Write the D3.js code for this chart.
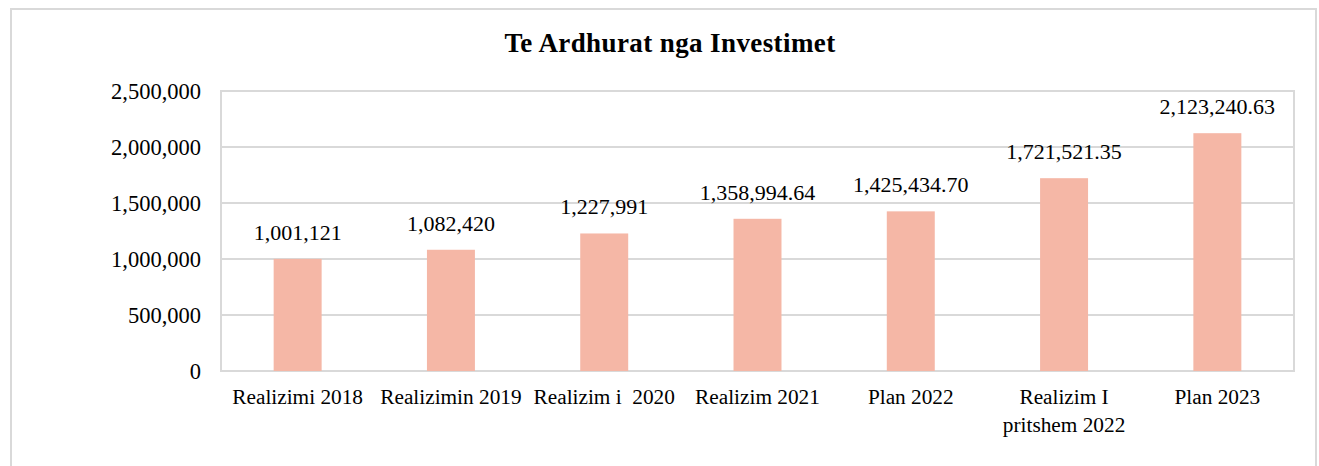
<!DOCTYPE html>
<html>
<head>
<meta charset="utf-8">
<script src="https://cdn.jsdelivr.net/npm/d3@7"></script>
<style>
  body { margin: 0; background: #fff; }
  text { font-family: "Liberation Serif", "DejaVu Serif", serif; fill: #000; white-space: pre; }
</style>
</head>
<body>
<svg id="chart" width="1319" height="466"></svg>
<script>
var categories = ["Realizimi 2018", "Realizimin 2019", "Realizim i  2020", "Realizim 2021", "Plan 2022", "Realizim I\npritshem 2022", "Plan 2023"];
var values = [1001121, 1082420, 1227991, 1358994.64, 1425434.70, 1721521.35, 2123240.63];
var valueLabels = ["1,001,121", "1,082,420", "1,227,991", "1,358,994.64", "1,425,434.70", "1,721,521.35", "2,123,240.63"];
var yTicks = [0, 500000, 1000000, 1500000, 2000000, 2500000];
var title = "Te Ardhurat nga Investimet";

var svg = d3.select("#chart");
var plot = { left: 221, top: 91, right: 1294, bottom: 371 };
var gridColor = "#d9d9d9";
var serif = "'Liberation Serif', 'DejaVu Serif', serif";

// outer chart frame
svg.append("rect")
    .attr("x", 11).attr("y", 9)
    .attr("width", 1305).attr("height", 480)
    .attr("fill", "#fff")
    .attr("stroke", gridColor)
    .attr("stroke-width", 2);

svg.append("text")
    .attr("x", 670).attr("y", 52)
    .attr("text-anchor", "middle")
    .style("font-family", serif)
    .style("font-size", "27px")
    .style("font-weight", "bold")
    .style("letter-spacing", "0.4px")
    .text(title);

var x = d3.scaleBand()
    .domain(categories)
    .range([plot.left, plot.right])
    .paddingInner(0.687)
    .paddingOuter(0.3435);

var y = d3.scaleLinear()
    .domain([0, 2500000])
    .range([plot.bottom, plot.top]);

// gridlines
svg.append("g").selectAll("line")
    .data(yTicks)
    .enter().append("line")
    .attr("x1", plot.left).attr("x2", plot.right)
    .attr("y1", function (d) { return y(d); })
    .attr("y2", function (d) { return y(d); })
    .attr("stroke", gridColor)
    .attr("stroke-width", 2);

// plot frame
svg.append("rect")
    .attr("x", plot.left).attr("y", plot.top)
    .attr("width", plot.right - plot.left)
    .attr("height", plot.bottom - plot.top)
    .attr("fill", "none")
    .attr("stroke", gridColor)
    .attr("stroke-width", 2);

// y axis labels
var fmt = d3.format(",");
var yAxis = d3.axisLeft(y).tickValues(yTicks).tickFormat(fmt).tickSize(0).tickPadding(20);
var yg = svg.append("g")
    .attr("transform", "translate(" + plot.left + ",0)")
    .call(yAxis)
    .attr("font-family", null);
yg.select(".domain").remove();
yg.selectAll("text")
    .style("font-family", serif)
    .style("font-size", "22.5px")
    .attr("fill", "#000");

// bars
svg.append("g").selectAll("rect")
    .data(values)
    .enter().append("rect")
    .attr("x", function (d, i) { return x(categories[i]); })
    .attr("width", x.bandwidth())
    .attr("y", function (d) { return y(d); })
    .attr("height", function (d) { return y(0) - y(d); })
    .attr("fill", "#f5b7a6");

// value labels
svg.append("g").selectAll("text")
    .data(values)
    .enter().append("text")
    .attr("x", function (d, i) { return x(categories[i]) + x.bandwidth() / 2; })
    .attr("y", function (d) { return y(d) - 19; })
    .attr("text-anchor", "middle")
    .style("font-family", serif)
    .style("font-size", "22px")
    .text(function (d, i) { return valueLabels[i]; });

// x axis labels
var xl = svg.append("g").selectAll("text")
    .data(categories)
    .enter().append("text")
    .attr("x", function (d) { return x(d) + x.bandwidth() / 2; })
    .attr("y", 404)
    .attr("text-anchor", "middle")
    .style("font-family", serif)
    .style("font-size", "21.3px");
xl.each(function (d) {
    var t = d3.select(this);
    d.split("\n").forEach(function (line, k) {
        t.append("tspan")
            .attr("x", t.attr("x"))
            .attr("dy", k === 0 ? 0 : 28)
            .text(line);
    });
});
</script>
</body>
</html>
